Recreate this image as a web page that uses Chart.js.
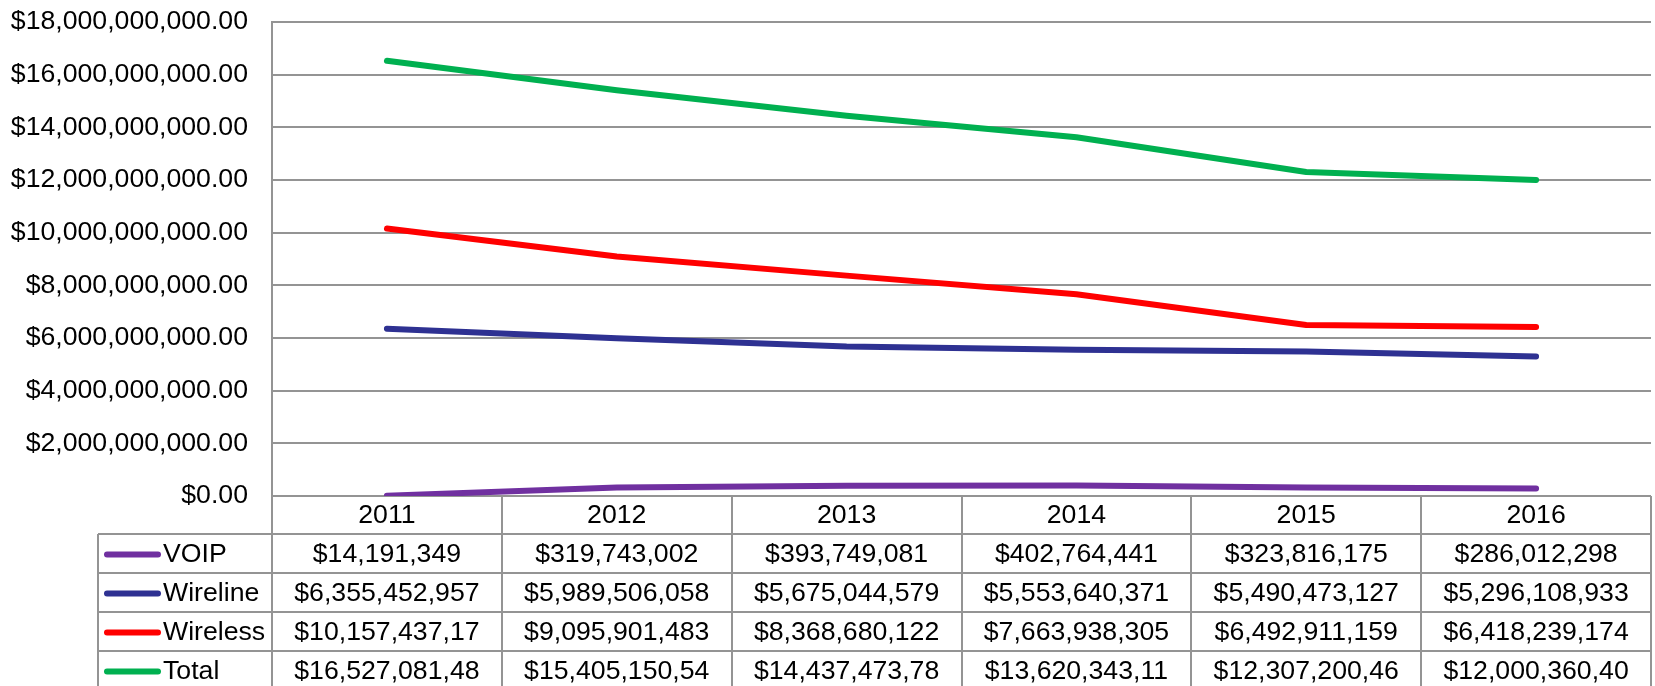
<!DOCTYPE html>
<html lang="en">
<head>
    <meta charset="UTF-8">
    <title>Revenue by service</title>
    <script src="https://cdn.jsdelivr.net/npm/chart.js"></script>
    <style>
        body {
            margin: 0;
            background: #fff;
        }
        #wrap {
            width: 1655px;
            height: 686px;
        }
    </style>
</head>
<body>
    <div id="wrap"><canvas id="chart" width="1655" height="686"></canvas></div>

    <script>
        // data
        const years = ['2011', '2012', '2013', '2014', '2015', '2016'];
        const seriesNames = ['VOIP', 'Wireline', 'Wireless', 'Total'];
        const voip = [14191349, 319743002, 393749081, 402764441, 323816175, 286012298];
        const wireline = [6355452957, 5989506058, 5675044579, 5553640371, 5490473127, 5296108933];
        const wireless = [10157437175, 9095901483, 8368680122, 7663938305, 6492911159, 6418239174];
        const total = [16527081481, 15405150543, 14437473782, 13620343117, 12307200461, 12000360405];
        const yMin = 0, yMax = 18000000000, yStep = 2000000000;

        const colors = ['#7030A0', '#2E3192', '#FF0000', '#00B050'];
        const gridColor = '#949494';
        const fontFamily = '"Liberation Sans", Arial, sans-serif';
        const fontSize = 26.67;
        const MAX_CELL_CHARS = 14;   // data table cells cut long numbers

        const allSeries = [voip, wireline, wireless, total];

        function money(v) {
            return '$' + v.toLocaleString('en-US');
        }

        // draws the data table under the plot
        const dataTable = {
            id: 'dataTable',
            afterDraw(chart) {
                const ctx = chart.ctx;
                const area = chart.chartArea;
                const xs = chart.scales.x;
                const colW = (area.right - area.left) / years.length;
                const headerBottom = area.bottom + 38;
                const rowH = 39;
                const legendLeft = 98;
                const H = chart.height;

                ctx.save();
                ctx.strokeStyle = gridColor;
                ctx.lineWidth = 2;

                // vertical lines
                for (let i = 0; i <= years.length; i++) {
                    const x = Math.round(area.left + i * colW);
                    ctx.beginPath();
                    ctx.moveTo(x, area.bottom);
                    ctx.lineTo(x, H);
                    ctx.stroke();
                }
                ctx.beginPath();
                ctx.moveTo(legendLeft, headerBottom);
                ctx.lineTo(legendLeft, H);
                ctx.stroke();

                // horizontal lines
                for (let r = 0; r < seriesNames.length; r++) {
                    const y = Math.round(headerBottom + r * rowH);
                    ctx.beginPath();
                    ctx.moveTo(legendLeft, y);
                    ctx.lineTo(area.right, y);
                    ctx.stroke();
                }

                ctx.fillStyle = '#000';
                ctx.font = fontSize + 'px ' + fontFamily;
                ctx.textBaseline = 'middle';

                // year header
                ctx.textAlign = 'center';
                years.forEach((yr, i) => {
                    ctx.fillText(yr, xs.getPixelForValue(i), (area.bottom + headerBottom) / 2 + 1);
                });

                // rows
                seriesNames.forEach((name, r) => {
                    const yMid = headerBottom + r * rowH + rowH / 2 + 1;

                    ctx.strokeStyle = colors[r];
                    ctx.lineWidth = 6;
                    ctx.lineCap = 'round';
                    ctx.beginPath();
                    ctx.moveTo(107, yMid);
                    ctx.lineTo(158, yMid);
                    ctx.stroke();

                    ctx.textAlign = 'left';
                    ctx.fillText(name, 163, yMid);

                    ctx.textAlign = 'center';
                    allSeries[r].forEach((v, i) => {
                        const txt = money(v).slice(0, MAX_CELL_CHARS);
                        ctx.fillText(txt, xs.getPixelForValue(i), yMid);
                    });
                });
                ctx.restore();
            }
        };

        new Chart(document.getElementById('chart').getContext('2d'), {
            type: 'line',
            data: {
                labels: years,
                datasets: seriesNames.map((name, i) => ({
                    label: name,
                    data: allSeries[i],
                    borderColor: colors[i],
                    backgroundColor: colors[i],
                    borderWidth: 6,
                    borderCapStyle: 'round',
                    borderJoinStyle: 'round',
                    pointRadius: 0,
                    tension: 0
                }))
            },
            options: {
                responsive: false,
                animation: false,
                layout: { padding: { left: 0, right: 4, top: 22, bottom: 190 } },
                plugins: {
                    legend: { display: false },
                    tooltip: { enabled: false }
                },
                scales: {
                    x: {
                        display: false,
                        offset: true
                    },
                    y: {
                        min: yMin,
                        max: yMax,
                        afterFit(scale) {
                            scale.width = 272;
                            scale.paddingTop = 0;
                            scale.paddingBottom = 0;
                        },
                        border: { display: true, color: gridColor, width: 2 },
                        grid: { color: gridColor, lineWidth: 2, drawTicks: false },
                        ticks: {
                            stepSize: yStep,
                            padding: 24,
                            color: '#000',
                            font: { family: fontFamily, size: fontSize },
                            callback: v => '$' + v.toLocaleString('en-US', { minimumFractionDigits: 2, maximumFractionDigits: 2 })
                        }
                    }
                }
            },
            plugins: [dataTable]
        });
    </script>
</body>
</html>
